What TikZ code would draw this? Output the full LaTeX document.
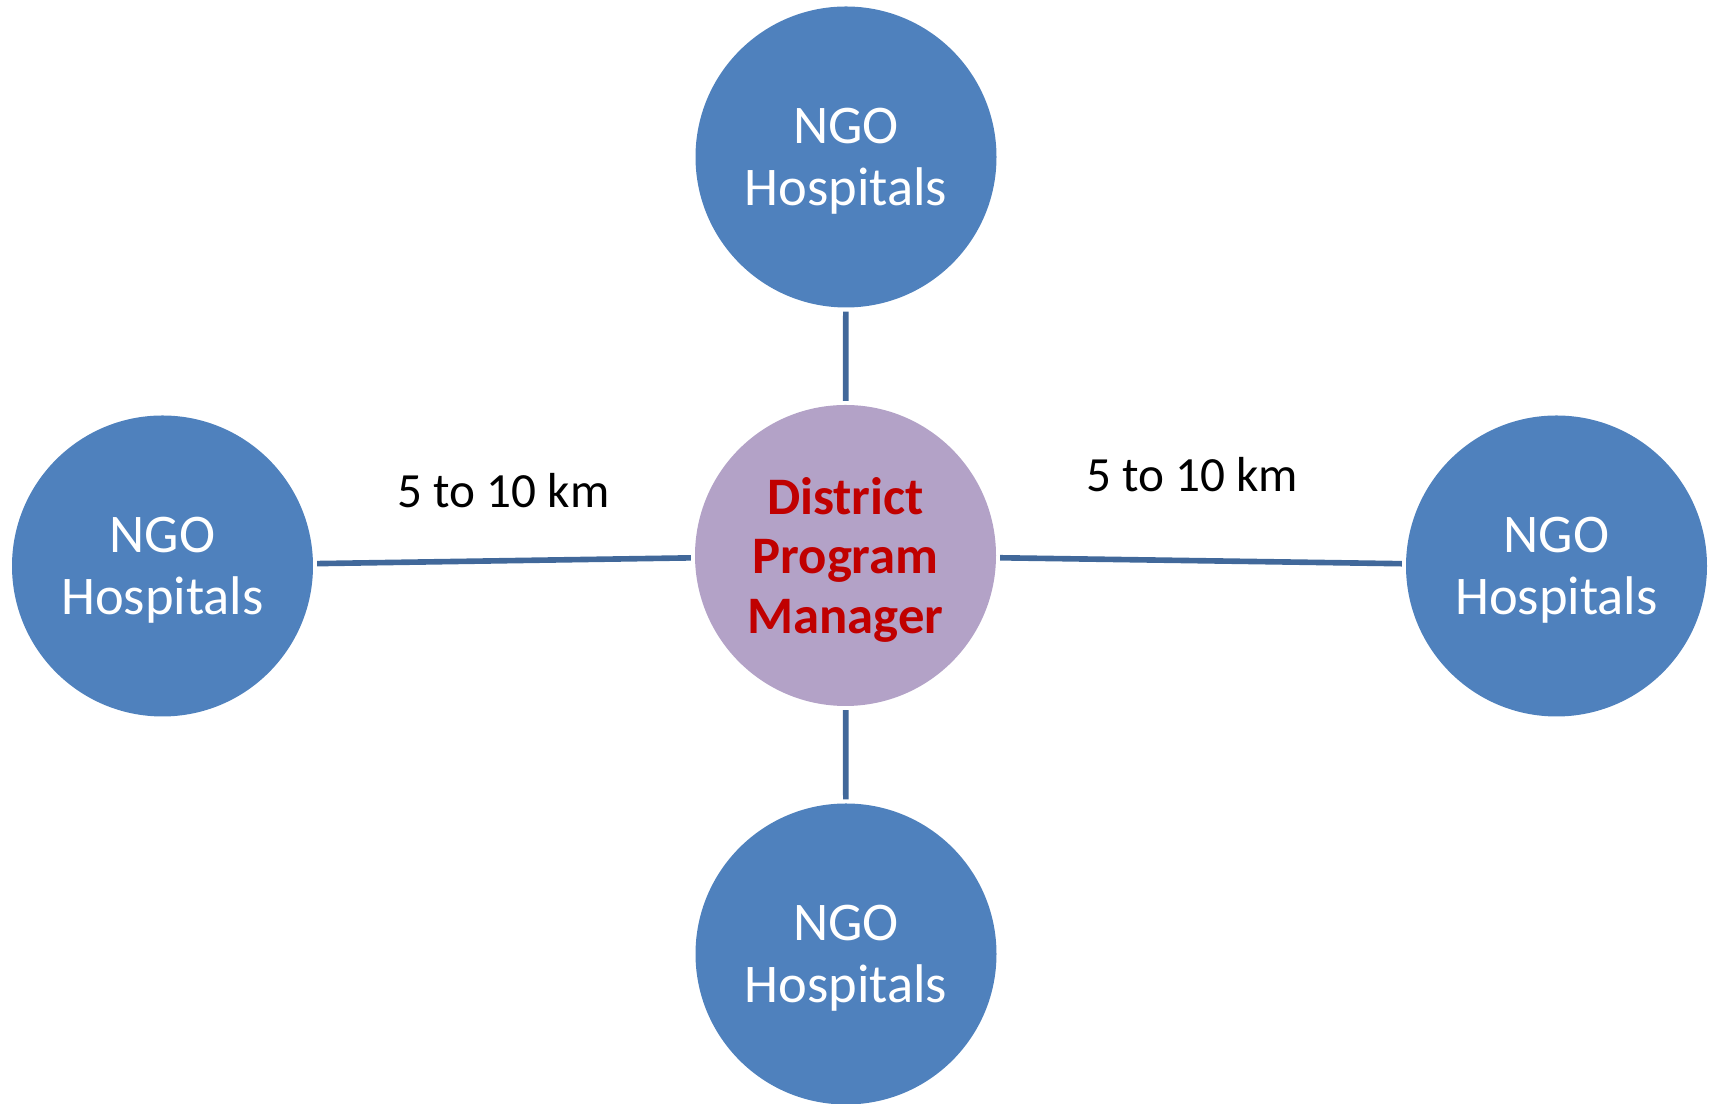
\documentclass[tikz,border=0pt]{standalone}
\usepackage{fontspec}
\setmainfont{Carlito}
\usepackage{xcolor}
\usepackage{tikz}

\definecolor{hospblue}{RGB}{79,129,189}
\definecolor{dpmpurple}{RGB}{179,162,199}
\definecolor{dpmred}{RGB}{192,0,0}
\definecolor{linkblue}{RGB}{65,104,154}

\tikzset{
  hosp/.style={circle, fill=hospblue, minimum size=3.01cm, inner sep=0pt,
    align=center, text=white, text depth=0pt,
    font=\fontsize{15.5}{17.6}\selectfont},
  dpm/.style={circle, fill=dpmpurple, minimum size=3.01cm, inner sep=0pt,
    align=center, text=dpmred, text depth=0pt,
    font=\fontsize{15}{16.8}\selectfont\bfseries},
  link/.style={linkblue, line width=1.6pt, shorten <=1pt, shorten >=1pt},
  dist/.style={anchor=base, font=\fontsize{14}{16}\selectfont}
}

\begin{document}
\begin{tikzpicture}
  \useasboundingbox (0,0) rectangle (17.14,-11.04);

  % Centre circle
  \node[dpm] (dpm) at (8.455,-5.555) {District\\Program\\Manager};

  % NGO hospitals round it
  \node[hosp] (top) at (8.46,-1.57) {NGO\\Hospitals};
  \node[hosp] (left) at (1.625,-5.66) {NGO\\Hospitals};
  \node[hosp] (right) at (15.565,-5.66) {NGO\\Hospitals};
  \node[hosp] (bottom) at (8.46,-9.54) {NGO\\Hospitals};

  % Connecting lines
  \draw[link] (dpm) -- (top);
  \draw[link] (dpm) -- (bottom);
  \draw[link] (dpm) -- (left);
  \draw[link] (dpm) -- (right);

  % Distance labels
  \node[dist] (distL) at (5.035,-5.08) {5 to 10 km};
  \node[dist] (distR) at (11.92,-4.92) {5 to 10 km};

\end{tikzpicture}
\end{document}
